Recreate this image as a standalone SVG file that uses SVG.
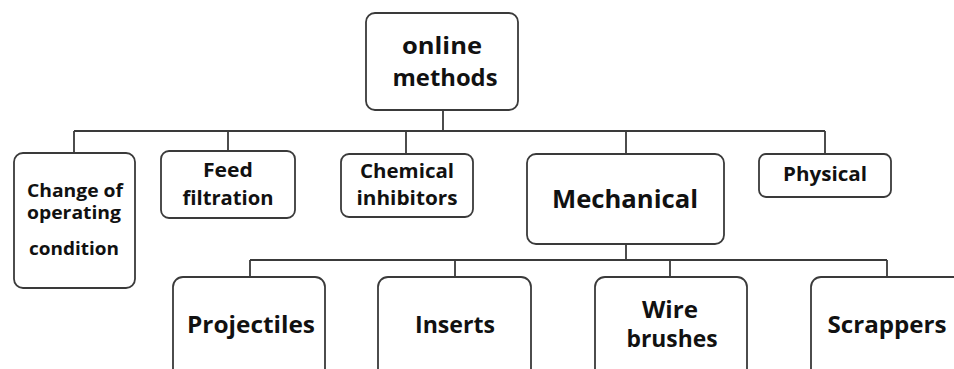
<svg xmlns="http://www.w3.org/2000/svg" width="954" height="369" viewBox="0 0 954 369">
<style>
.box{fill:#fff;stroke:#3a3a3a;stroke-width:1.8}
.ln{fill:none;stroke:#3a3a3a;stroke-width:1.8}
text{font-family:"Open Sans","Liberation Sans",sans-serif;font-weight:bold;fill:#111;text-anchor:middle}
.xr{font-size:23.5px}
.xl{font-size:25.5px}
.l{font-size:23.5px}
.m{font-size:19px}
.s{font-size:17.5px}
</style>
<rect width="954" height="369" fill="#fff"/>
<g id="connectors">
<path class="ln" d="M443,110 V131 M74,131 H825 M74,131 V153 M228,131 V151 M406,131 V154 M626,131 V154 M825,131 V154"/>
<path class="ln" d="M626,244 V260 M250,260 H887 M250,260 V277 M455,260 V277 M670,260 V277 M887,260 V277"/>
</g>
<g id="root"><rect class="box" x="366" y="13" width="152" height="97" rx="9"/>
<text class="xr" x="442" y="54" textLength="80" lengthAdjust="spacingAndGlyphs">online</text>
<text class="xr" x="445" y="86" textLength="105" lengthAdjust="spacingAndGlyphs">methods</text></g>
<g id="change"><rect class="box" x="14" y="153" width="121" height="135" rx="9"/>
<text class="s" x="75" y="197" textLength="96" lengthAdjust="spacingAndGlyphs">Change of</text>
<text class="s" x="74" y="219" textLength="94" lengthAdjust="spacingAndGlyphs">operating</text>
<text class="s" x="74" y="255" textLength="90" lengthAdjust="spacingAndGlyphs">condition</text></g>
<g id="feed"><rect class="box" x="161" y="151" width="134" height="67" rx="8"/>
<text class="m" x="228" y="177" textLength="50" lengthAdjust="spacingAndGlyphs">Feed</text>
<text class="m" x="228" y="205" textLength="91" lengthAdjust="spacingAndGlyphs">filtration</text></g>
<g id="chemical"><rect class="box" x="341" y="154" width="132" height="63" rx="8"/>
<text class="m" x="407" y="178" textLength="94" lengthAdjust="spacingAndGlyphs">Chemical</text>
<text class="m" x="407" y="205" textLength="101" lengthAdjust="spacingAndGlyphs">inhibitors</text></g>
<g id="mechanical"><rect class="box" x="527" y="154" width="197" height="90" rx="9"/>
<text class="xl" x="625" y="208" textLength="146" lengthAdjust="spacingAndGlyphs">Mechanical</text></g>
<g id="physical"><rect class="box" x="759" y="154" width="132" height="43" rx="7"/>
<text class="m" x="825" y="181" textLength="84" lengthAdjust="spacingAndGlyphs">Physical</text></g>
<g id="projectiles"><rect class="box" x="173" y="277" width="152" height="110" rx="10"/>
<text class="l" x="251" y="333" textLength="128" lengthAdjust="spacingAndGlyphs">Projectiles</text></g>
<g id="inserts"><rect class="box" x="378" y="277" width="153" height="110" rx="10"/>
<text class="l" x="455" y="333" textLength="80" lengthAdjust="spacingAndGlyphs">Inserts</text></g>
<g id="wire"><rect class="box" x="595" y="277" width="152" height="110" rx="10"/>
<text class="l" x="670" y="318" textLength="56" lengthAdjust="spacingAndGlyphs">Wire</text>
<text class="l" x="672" y="347" textLength="91" lengthAdjust="spacingAndGlyphs">brushes</text></g>
<g id="scrappers"><rect class="box" x="811" y="277" width="170" height="110" rx="10"/>
<text class="l" x="887" y="333" textLength="119" lengthAdjust="spacingAndGlyphs">Scrappers</text></g>
</svg>
